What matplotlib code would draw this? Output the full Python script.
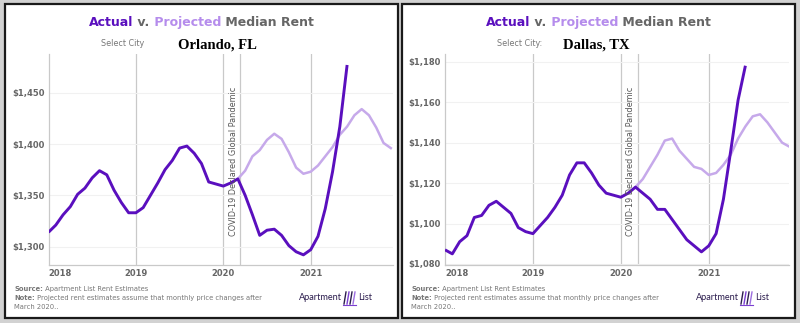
import matplotlib
matplotlib.use('Agg')
import matplotlib.pyplot as plt
from matplotlib.patches import Rectangle
from matplotlib.lines import Line2D
from matplotlib.ticker import FuncFormatter
import numpy as np

W, H = 800, 323

# ---------------- data ----------------
months = np.arange(48)                       # Jan 2018 .. Dec 2021
year_ticks = [0, 12, 24, 36]
year_labels = ['2018', '2019', '2020', '2021']
covid_month = 26.32                          # 11 Mar 2020
proj_start = 26                              # Mar 2020

orlando_actual = [1314, 1321, 1331, 1339, 1351, 1357, 1367, 1374, 1370, 1355,
                  1343, 1333, 1333, 1338, 1350, 1362, 1375, 1384, 1396, 1398,
                  1391, 1381, 1363, 1361, 1359, 1362, 1366, 1350, 1331, 1311,
                  1316, 1317, 1311, 1301, 1295, 1292, 1297, 1310, 1337, 1373,
                  1417, 1477]
orlando_projected = [1366, 1374, 1388, 1394, 1404, 1410, 1405, 1392, 1377, 1371,
                     1373, 1379, 1388, 1397, 1409, 1417, 1428, 1434, 1428, 1416,
                     1401, 1396]
orlando_yticks = [1300, 1350, 1400, 1450]

dallas_actual = [1087, 1085, 1091, 1094, 1103, 1104, 1109, 1111, 1108, 1105,
                 1098, 1096, 1095, 1099, 1103, 1108, 1114, 1124, 1130, 1130,
                 1125, 1119, 1115, 1114, 1113, 1115, 1118, 1115, 1112, 1107,
                 1107, 1102, 1097, 1092, 1089, 1086, 1089, 1095, 1112, 1136,
                 1161, 1178]
dallas_projected = [1118, 1122, 1128, 1134, 1141, 1142, 1136, 1132, 1128, 1127,
                    1124, 1125, 1129, 1134, 1142, 1148, 1153, 1154, 1150, 1145,
                    1140, 1138]
dallas_yticks = [1080, 1100, 1120, 1140, 1160, 1180]

title_parts = [('Actual', 'actual'), (' v.', 'gray'), (' Projected', 'proj'), (' Median Rent', 'gray')]
covid_label = 'COVID-19 Declared Global Pandemic'
source_label = ('Source:', ' Apartment List Rent Estimates')
note_label = ('Note:', ' Projected rent estimates assume that monthly price changes after')
note_label2 = 'March 2020..'

# ---------------- style ----------------
C_ACT = '#5a0fbe'
C_PROJ = '#c6a9ea'
C_PROJ_T = '#b58cec'
C_GRAY = '#666666'
C_GRID = '#c9c9c9'
colors = {'actual': C_ACT, 'proj': C_PROJ_T, 'gray': C_GRAY}

fig = plt.figure(figsize=(W / 100, H / 100), dpi=100)
fig.patch.set_facecolor('#d2d2d2')
renderer = fig.canvas.get_renderer()


def fx(x):
    return x / W


def fy(y):
    return 1 - y / H


def seq_text(x, y, parts, ha='left', **kw):
    """Draw text pieces one after another starting at pixel x (top-origin y)."""
    objs = []
    widths = []
    for s, props in parts:
        t = fig.text(0, fy(y), s, ha='left', va='center', **kw, **props)
        bb = t.get_window_extent(renderer)
        objs.append(t)
        widths.append(bb.width)
    total = sum(widths)
    start = x - total / 2 if ha == 'center' else x
    cur = start
    for t, w in zip(objs, widths):
        t.set_x(fx(cur))
        cur += w
    return objs


def panel(x0, city, act, proj, yticks, ylim, ax_left, ax_right, xmax):
    # panel frame
    fig.patches.append(Rectangle((fx(x0), fy(318)), fx(393), 314 / H,
                                 transform=fig.transFigure, facecolor='white',
                                 edgecolor='#1a1a1a', lw=1.6, zorder=-5))
    # title
    seq_text(x0 + 196.5, 22.7, [(s, dict(color=colors[c])) for s, c in title_parts],
             ha='center', fontsize=9, fontweight='bold', family='DejaVu Sans')
    fig.text(fx(x0 + 118), fy(44), 'Select City' + (':' if city.startswith('Dallas') else ''),
             ha='center', va='center', fontsize=5.8, color='#777777')
    fig.text(fx(x0 + 212 if city.startswith('Orlando') else x0 + 194), fy(45.5), city,
             ha='center', va='center', fontsize=10.5, fontweight='bold',
             family='Liberation Serif', color='black')

    ax = fig.add_axes([fx(ax_left), fy(265), (ax_right - ax_left) / W, 211 / H])
    ax.set_zorder(2)
    ax.set_facecolor('none')
    ax.set_xlim(0, xmax)
    ax.set_ylim(*ylim)
    for m in year_ticks[1:] + [covid_month]:
        ax.axvline(m, color=C_GRID, lw=0.9, zorder=1)
    ax.set_yticks(yticks)
    ax.yaxis.set_major_formatter(FuncFormatter(lambda v, p: '${:,.0f}'.format(v)))
    ax.yaxis.grid(True, color='#f1f1f1', lw=0.8, zorder=0)
    ax.set_xticks(year_ticks)
    ax.set_xticklabels(year_labels)
    ax.tick_params(length=0, labelsize=6, labelcolor=C_GRAY, pad=3)
    for lab in ax.get_xticklabels() + ax.get_yticklabels():
        lab.set_fontweight('bold')
    ax.get_xticklabels()[0].set_ha('left')
    for s in ['top', 'right']:
        ax.spines[s].set_visible(False)
    for s in ['left', 'bottom']:
        ax.spines[s].set_color(C_GRID)
        ax.spines[s].set_linewidth(0.9)

    ax.plot(months[proj_start:proj_start + len(proj)], proj, color=C_PROJ, lw=1.8,
            zorder=3, solid_joinstyle='round')
    ax.plot(months[:len(act)], act, color=C_ACT, lw=2.1, zorder=4,
            solid_joinstyle='round', solid_capstyle='butt')

    ax.text(covid_month - 0.35, 0.137, covid_label, transform=ax.get_xaxis_transform(),
            rotation=90, ha='right', va='bottom', fontsize=5.9, color='#555555', zorder=5)

    # footer
    seq_text(x0 + 9, 289.3, [(source_label[0], dict(fontweight='bold')), (source_label[1], {})],
             fontsize=4.9, color='#777777')
    seq_text(x0 + 9, 297.7, [(note_label[0], dict(fontweight='bold')), (note_label[1], {})],
             fontsize=4.9, color='#777777')
    fig.text(fx(x0 + 9), fy(306.7), note_label2, ha='left', va='center',
             fontsize=4.9, color='#777777')

    # logo
    fig.text(fx(x0 + 294), fy(298), 'Apartment', ha='left', va='center', fontsize=6.6,
             family='Lato', color='#2c1d4e')
    fig.text(fx(x0 + 353), fy(298), 'List', ha='left', va='center', fontsize=6.6,
             family='Lato', color='#2c1d4e')
    bx = x0 + 339
    for i, c in enumerate(['#2c1d4e', '#7b3fd1', '#2c1d4e', '#9d6ee0']):
        xx = bx + i * 3
        fig.add_artist(Line2D([fx(xx), fx(xx + 2)], [fy(304), fy(292)],
                              color=c, lw=1.0, transform=fig.transFigure))
    fig.add_artist(Line2D([fx(bx - 1), fx(bx + 12)], [fy(305), fy(305)],
                          color='#7b3fd1', lw=0.8, transform=fig.transFigure))
    return ax


panel(5, 'Orlando, FL', orlando_actual, orlando_projected, orlando_yticks,
      (1282.1, 1487.7), 48.5, 393, 47.3)
panel(402, 'Dallas, TX', dallas_actual, dallas_projected, dallas_yticks,
      (1079.5, 1183.8), 445, 789, 46.95)

fig.savefig('out.png', dpi=100, facecolor=fig.get_facecolor())
